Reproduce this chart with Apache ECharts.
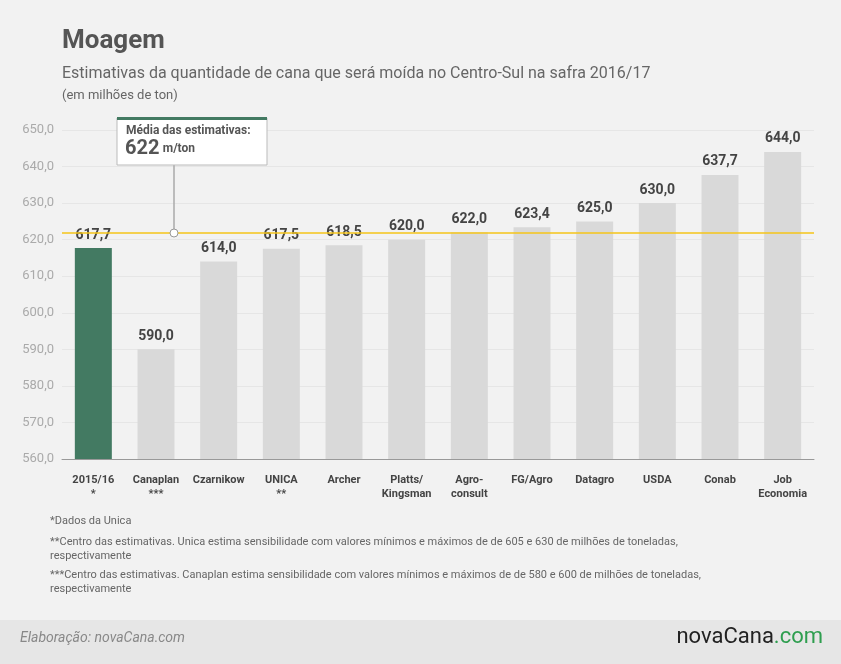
<!DOCTYPE html>
<html><head><meta charset="utf-8">
<script src="https://cdn.jsdelivr.net/npm/echarts@6/dist/echarts.min.js"></script>
<style>body{margin:0;background:#f2f2f2}#c{width:841px;height:664px}</style>
</head><body><div id="c"></div>
<script>
var categories = ['2015/16\n*', 'Canaplan\n***', 'Czarnikow', 'UNICA\n**', 'Archer', 'Platts/\nKingsman', 'Agro-\nconsult', 'FG/Agro', 'Datagro', 'USDA', 'Conab', 'Job\nEconomia'];
var values = [617.7, 590.0, 614.0, 617.5, 618.5, 620.0, 622.0, 623.4, 625.0, 630.0, 637.7, 644.0];
var average = 622;
var yTicks = [560, 650, 10];

var font = 'Roboto, "Open Sans", sans-serif';
var myChart = echarts.init(document.getElementById('c'));
var data = [];
for (var i = 0; i < values.length; i++) {
	data.push({ value: values[i], itemStyle: { color: i == 0 ? '#437a62' : '#d9d9d9' } });
}
var option = {
	backgroundColor: '#f2f2f2',
	textStyle: { fontFamily: font },
	grid: { left: 62, right: 27, top: 130, bottom: 205 },
	xAxis: {
		type: 'category', data: categories,
		axisTick: { show: false },
		axisLine: { lineStyle: { color: '#999' } },
		axisLabel: { color: '#444', fontSize: 11, fontWeight: 'bold', lineHeight: 14, margin: 14, interval: 0 }
	},
	yAxis: {
		type: 'value', min: yTicks[0], max: yTicks[1], interval: yTicks[2],
		axisLabel: { color: '#aaa', fontSize: 13, formatter: function (v) { return v.toFixed(1).replace('.', ','); } },
		splitLine: { lineStyle: { color: '#e6e6e6' } },
		axisLine: { show: false }, axisTick: { show: false }
	},
	series: [{
		type: 'bar', data: data, barWidth: 37,
		label: { show: true, position: 'top', distance: 6, color: '#444', fontSize: 14, fontWeight: 'bold',
			formatter: function (p) { return p.value.toFixed(1).replace('.', ','); } },
		markLine: {
			silent: true, symbol: 'none', label: { show: false },
			lineStyle: { color: '#f5c518', type: 'solid', width: 1.5 },
			data: [{ yAxis: average }]
		}
	}],
	graphic: [
		{ type: 'text', left: 62, top: 28, style: { text: 'Moagem', fill: '#555', font: 'bold 26px ' + font } },
		{ type: 'text', left: 62, top: 66, style: { text: 'Estimativas da quantidade de cana que será moída no Centro-Sul na safra 2016/17', fill: '#666', font: '16px ' + font } },
		{ type: 'text', left: 62, top: 89, style: { text: '(em milhões de ton)', fill: '#666', font: '13px ' + font } },
		{ type: 'group', z: 100, children: [
			{ type: 'line', z: 100, shape: { x1: 174, y1: 165, x2: 174, y2: 229 }, style: { stroke: '#aaa', lineWidth: 1.5 } },
			{ type: 'circle', z: 100, shape: { cx: 174, cy: 233, r: 4 }, style: { fill: '#fff', stroke: '#999', lineWidth: 1 } },
			{ type: 'rect', z: 100, shape: { x: 117, y: 118, width: 150, height: 47 }, style: { fill: '#fff', stroke: '#bbb', lineWidth: 1 } },
			{ type: 'rect', z: 101, shape: { x: 117, y: 117, width: 150, height: 3 }, style: { fill: '#437a62' } },
			{ type: 'text', z: 102, x: 126, y: 125, style: { text: 'Média das estimativas:', fill: '#555', font: 'bold 12px ' + font } },
			{ type: 'text', z: 102, x: 125, y: 139, style: { rich: { a: { fontSize: 20, fontWeight: 'bold', fill: '#555', fontFamily: font }, b: { fontSize: 12, fontWeight: 'bold', fill: '#555', fontFamily: font } }, text: '{a|622} {b|m/ton}' } }
		] },
		{ type: 'text', left: 50, top: 516, style: { text: '*Dados da Unica', fill: '#666', font: '11px ' + font } },
		{ type: 'text', left: 50, top: 535, style: { text: '**Centro das estimativas. Unica estima sensibilidade com valores mínimos e máximos de de 605 e 630 de milhões de toneladas,\nrespectivamente', fill: '#666', font: '11px ' + font, lineHeight: 14 } },
		{ type: 'text', left: 50, top: 568, style: { text: '***Centro das estimativas. Canaplan estima sensibilidade com valores mínimos e máximos de de 580 e 600 de milhões de toneladas,\nrespectivamente', fill: '#666', font: '11px ' + font, lineHeight: 14 } },
		{ type: 'rect', shape: { x: 0, y: 620, width: 841, height: 44 }, style: { fill: '#e6e6e6' } },
		{ type: 'text', left: 20, top: 631, style: { text: 'Elaboração: novaCana.com', fill: '#888', font: 'italic 14px ' + font } },
		{ type: 'text', right: 18, top: 626, style: { rich: { a: { fontSize: 22, fill: '#222', fontFamily: font }, b: { fontSize: 22, fill: '#2e9e4f', fontFamily: font } }, text: '{a|novaCana}{b|.com}' } }
	]
};
myChart.setOption(option);
</script></body></html>
